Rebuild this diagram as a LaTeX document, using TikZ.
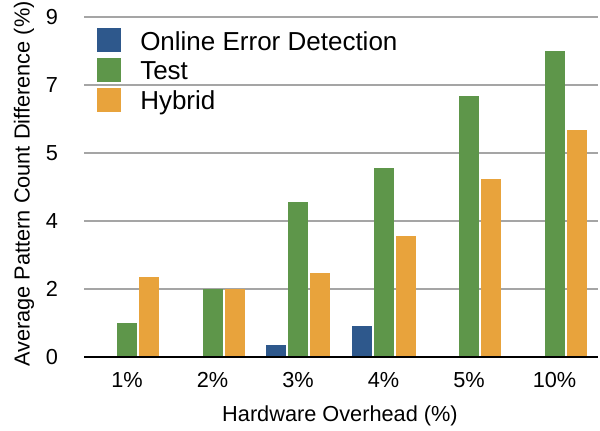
\documentclass[tikz,border=0pt]{standalone}
\usepackage{fontspec}
\setmainfont{Liberation Sans}
\definecolor{cblue}{RGB}{46,88,140}
\definecolor{cgreen}{RGB}{94,150,74}
\definecolor{corange}{RGB}{232,163,60}
\definecolor{cgrid}{RGB}{165,165,165}
\begin{document}
\begin{tikzpicture}[x=0.75pt,y=-0.75pt,
  grid/.style={draw=cgrid,line width=1.5pt},
  tick/.style={font=\fontsize{16.3}{18}\selectfont,inner sep=0pt},
  legtext/.style={font=\fontsize{19.5}{22}\selectfont,anchor=base west,inner sep=0pt},
  bargreen/.style={fill=cgreen},
  barorange/.style={fill=corange},
  barblue/.style={fill=cblue}]
\useasboundingbox (0,0) rectangle (600,430);
% gridlines
\foreach \yy in {17,85,153,221,289}{\draw[grid] (84,\yy) -- (598,\yy);}
% y tick labels
\foreach \yy/\lab [count=\i] in {357/0,289/2,221/4,153/5,85/7,17/9}{
  \node[tick] (yt\i) at (52,\yy) {\lab};}
% bars
\begin{scope}[shift={(0,357)},y=34pt]
  \newcommand\mybar[3]{\fill[#3] (#1-10,0) rectangle (#1+10,#2);}
  % group 1
  \mybar{127}{0.757}{bargreen}
  \mybar{149}{1.77}{barorange}
  % group 2
  \mybar{212.5}{1.5}{bargreen}
  \mybar{234.5}{1.5}{barorange}
  % group 3
  \mybar{276}{0.265}{barblue}
  \mybar{298}{3.42}{bargreen}
  \mybar{320}{1.85}{barorange}
  % group 4
  \mybar{361.5}{0.68}{barblue}
  \mybar{383.5}{4.17}{bargreen}
  \mybar{405.5}{2.67}{barorange}
  % group 5
  \mybar{469}{5.76}{bargreen}
  \mybar{491}{3.93}{barorange}
  % group 6
  \mybar{554.5}{6.75}{bargreen}
  \mybar{576.5}{5.0}{barorange}
\end{scope}
% baseline
\draw[black,line width=1.5pt] (84,357) -- (598,357);
% x tick labels
\foreach \xx/\lab [count=\i] in {127/1\%,212.5/2\%,298/3\%,383.5/4\%,469/5\%,554.5/10\%}{
  \node[tick] (xt\i) at (\xx,380) {\lab};}
% axis titles
\node[tick] (xtitle) at (340,416) {Hardware Overhead (\%)};
\node[tick,rotate=90] (ytitle) at (24,184) {Average Pattern Count Difference (\%)};
% legend
\fill[cblue] (97,28) rectangle (121,52);
\fill[cgreen] (97,58) rectangle (121,82);
\fill[corange] (97,88) rectangle (121,112);
\node[legtext] (l1) at (140,50) {Online Error Detection};
\node[legtext] (l2) at (140,79) {Test};
\node[legtext] (l3) at (140,109) {Hybrid};
\end{tikzpicture}
\end{document}
